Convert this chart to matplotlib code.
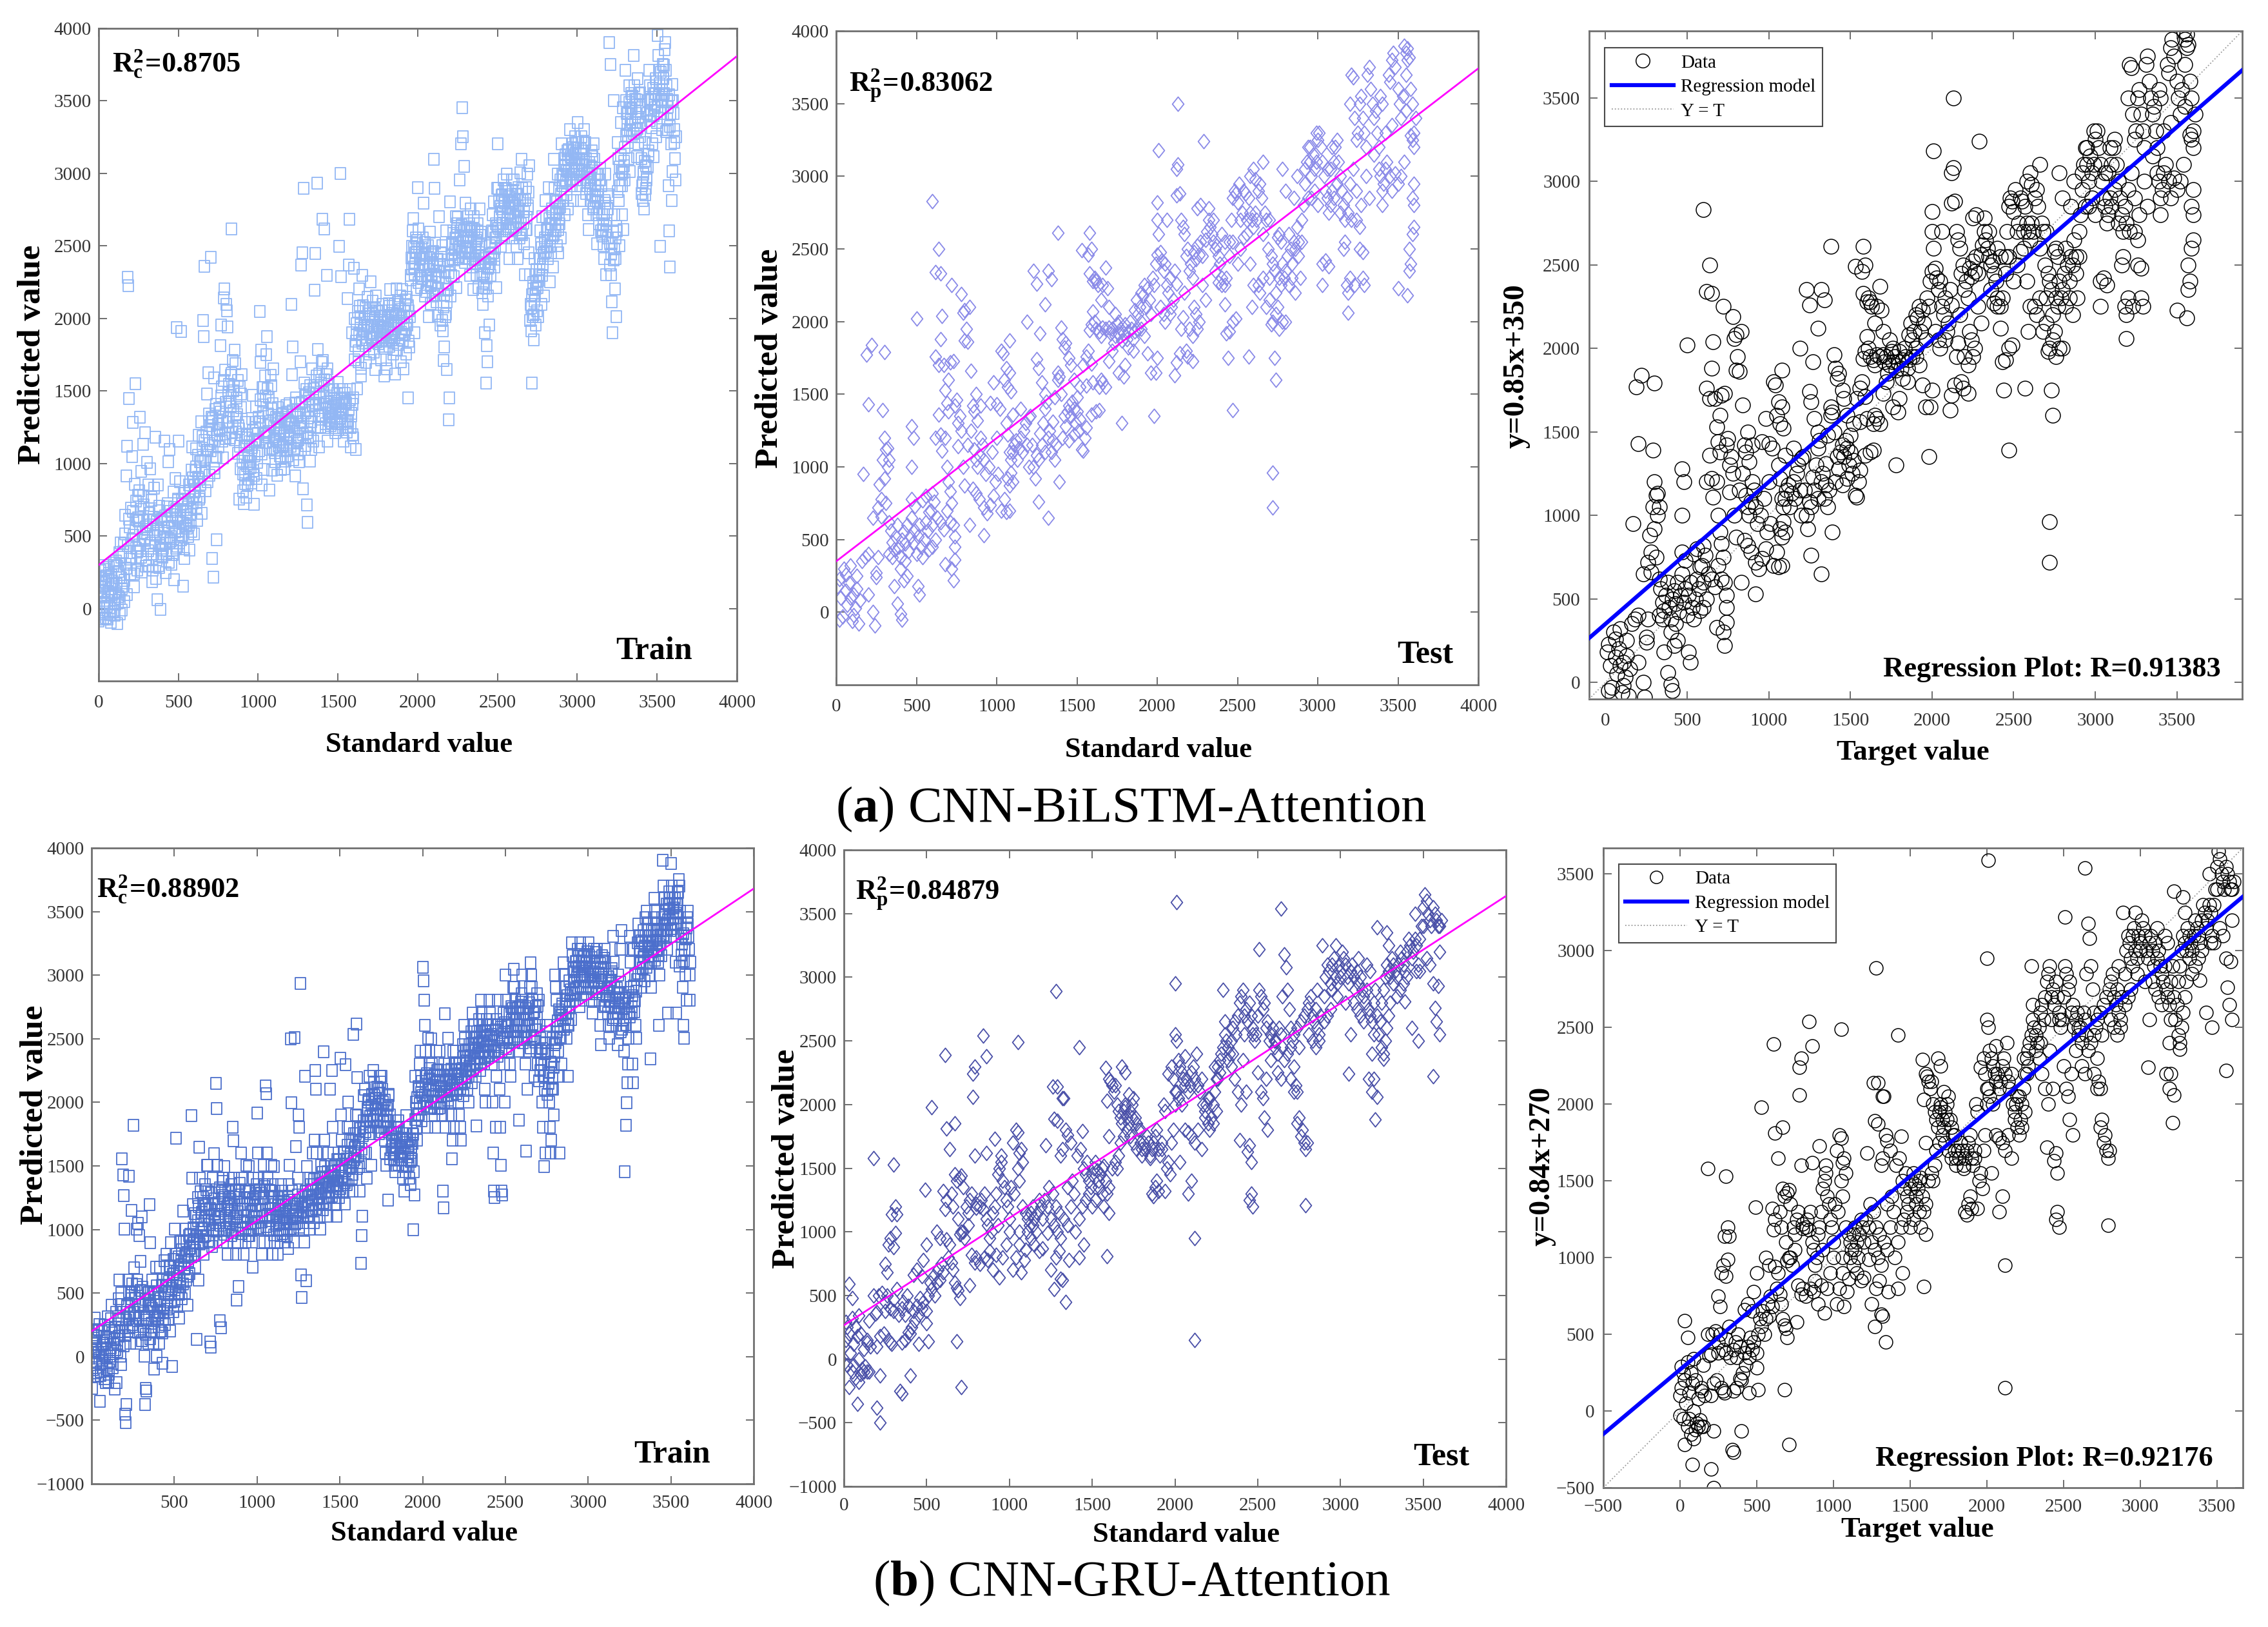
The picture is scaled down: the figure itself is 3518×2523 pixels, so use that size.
import numpy as np
import matplotlib
matplotlib.use("Agg")
import matplotlib.pyplot as plt
from matplotlib.path import Path
from matplotlib.lines import Line2D

# ---------------- data ----------------
# training set standard values (shared by both models)
train_std = [
    2, 6, 10, 14, 18, 22, 27, 31, 35, 39, 43, 47,
    52, 56, 60, 64, 68, 72, 77, 81, 85, 89, 93, 97,
    102, 106, 110, 114, 118, 122, 127, 131, 135, 139, 143, 147,
    152, 156, 160, 164, 168, 172, 177, 181, 185, 189, 193, 197,
    202, 206, 210, 214, 218, 222, 227, 231, 235, 239, 243, 247,
    252, 256, 260, 264, 268, 272, 277, 281, 285, 289, 293, 297,
    302, 306, 310, 314, 318, 322, 327, 331, 335, 339, 343, 347,
    352, 356, 360, 364, 368, 372, 377, 381, 385, 389, 393, 397,
    402, 406, 410, 414, 418, 422, 427, 431, 435, 439, 443, 447,
    452, 456, 460, 464, 468, 472, 477, 481, 485, 489, 493, 497,
    502, 506, 510, 514, 518, 522, 527, 531, 535, 539, 543, 547,
    552, 556, 560, 564, 568, 572, 577, 581, 585, 589, 593, 597,
    602, 606, 610, 614, 618, 622, 627, 631, 635, 639, 643, 647,
    652, 656, 660, 664, 668, 672, 677, 681, 685, 689, 693, 697,
    702, 706, 710, 714, 718, 722, 727, 731, 735, 739, 743, 747,
    752, 756, 760, 764, 768, 772, 777, 781, 785, 789, 793, 797,
    802, 806, 810, 814, 818, 822, 827, 831, 835, 839, 843, 847,
    852, 856, 860, 864, 868, 872, 877, 881, 885, 889, 893, 897,
    902, 906, 910, 914, 918, 922, 927, 931, 935, 939, 943, 947,
    952, 956, 960, 964, 968, 972, 977, 981, 985, 989, 993, 997,
    1002, 1006, 1010, 1014, 1018, 1022, 1027, 1031, 1035, 1039, 1043, 1047,
    1052, 1056, 1060, 1064, 1068, 1072, 1077, 1081, 1085, 1089, 1093, 1097,
    1102, 1106, 1110, 1114, 1118, 1122, 1127, 1131, 1135, 1139, 1143, 1147,
    1152, 1156, 1160, 1164, 1168, 1172, 1177, 1181, 1185, 1189, 1193, 1197,
    1202, 1206, 1210, 1214, 1218, 1222, 1227, 1231, 1235, 1239, 1243, 1247,
    1252, 1256, 1260, 1264, 1268, 1272, 1277, 1281, 1285, 1289, 1293, 1297,
    1302, 1306, 1310, 1314, 1318, 1322, 1327, 1331, 1335, 1339, 1343, 1347,
    1352, 1356, 1360, 1364, 1368, 1372, 1377, 1381, 1385, 1389, 1393, 1397,
    1402, 1406, 1410, 1414, 1418, 1422, 1427, 1431, 1435, 1439, 1443, 1447,
    1452, 1456, 1460, 1464, 1468, 1472, 1477, 1481, 1485, 1489, 1493, 1497,
    1502, 1506, 1510, 1514, 1518, 1522, 1527, 1531, 1535, 1539, 1543, 1547,
    1552, 1556, 1560, 1564, 1568, 1572, 1577, 1581, 1585, 1589, 1593, 1597,
    1602, 1606, 1610, 1614, 1618, 1622, 1627, 1631, 1635, 1639, 1643, 1647,
    1652, 1656, 1660, 1664, 1668, 1672, 1677, 1681, 1685, 1689, 1693, 1697,
    1702, 1706, 1710, 1714, 1718, 1722, 1727, 1731, 1735, 1739, 1743, 1747,
    1752, 1756, 1760, 1764, 1768, 1772, 1777, 1781, 1785, 1789, 1793, 1797,
    1802, 1806, 1810, 1814, 1818, 1822, 1827, 1831, 1835, 1839, 1843, 1847,
    1852, 1856, 1860, 1864, 1868, 1872, 1877, 1881, 1885, 1889, 1893, 1897,
    1902, 1906, 1910, 1914, 1918, 1922, 1927, 1931, 1935, 1939, 1943, 1947,
    1952, 1956, 1960, 1964, 1968, 1972, 1977, 1981, 1985, 1989, 1993, 1997,
    2002, 2006, 2010, 2014, 2018, 2022, 2027, 2031, 2035, 2039, 2043, 2047,
    2052, 2056, 2060, 2064, 2068, 2072, 2077, 2081, 2085, 2089, 2093, 2097,
    2102, 2106, 2110, 2114, 2118, 2122, 2127, 2131, 2135, 2139, 2143, 2147,
    2152, 2156, 2160, 2164, 2168, 2172, 2177, 2181, 2185, 2189, 2193, 2197,
    2202, 2206, 2210, 2214, 2218, 2222, 2227, 2231, 2235, 2239, 2243, 2247,
    2252, 2256, 2260, 2264, 2268, 2272, 2277, 2281, 2285, 2289, 2293, 2297,
    2302, 2306, 2310, 2314, 2318, 2322, 2327, 2331, 2335, 2339, 2343, 2347,
    2352, 2356, 2360, 2364, 2368, 2372, 2377, 2381, 2385, 2389, 2393, 2397,
    2402, 2406, 2410, 2414, 2418, 2422, 2427, 2431, 2435, 2439, 2443, 2447,
    2452, 2456, 2460, 2464, 2468, 2472, 2477, 2481, 2485, 2489, 2493, 2497,
    2502, 2506, 2510, 2514, 2518, 2522, 2527, 2531, 2535, 2539, 2543, 2547,
    2552, 2556, 2560, 2564, 2568, 2572, 2577, 2581, 2585, 2589, 2593, 2597,
    2602, 2606, 2610, 2614, 2618, 2622, 2627, 2631, 2635, 2639, 2643, 2647,
    2652, 2656, 2660, 2664, 2668, 2672, 2677, 2681, 2685, 2689, 2693, 2697,
    2702, 2706, 2710, 2714, 2718, 2722, 2727, 2731, 2735, 2739, 2743, 2747,
    2752, 2756, 2760, 2764, 2768, 2772, 2777, 2781, 2785, 2789, 2793, 2797,
    2802, 2806, 2810, 2814, 2818, 2822, 2827, 2831, 2835, 2839, 2843, 2847,
    2852, 2856, 2860, 2864, 2868, 2872, 2877, 2881, 2885, 2889, 2893, 2897,
    2902, 2906, 2910, 2914, 2918, 2922, 2927, 2931, 2935, 2939, 2943, 2947,
    2952, 2956, 2960, 2964, 2968, 2972, 2977, 2981, 2985, 2989, 2993, 2997,
    3002, 3006, 3010, 3014, 3018, 3022, 3027, 3031, 3035, 3039, 3043, 3047,
    3052, 3056, 3060, 3064, 3068, 3072, 3077, 3081, 3085, 3089, 3093, 3097,
    3102, 3106, 3110, 3114, 3118, 3122, 3127, 3131, 3135, 3139, 3143, 3147,
    3152, 3156, 3160, 3164, 3168, 3172, 3177, 3181, 3185, 3189, 3193, 3197,
    3202, 3206, 3210, 3214, 3218, 3222, 3227, 3231, 3235, 3239, 3243, 3247,
    3252, 3256, 3260, 3264, 3268, 3272, 3277, 3281, 3285, 3289, 3293, 3297,
    3302, 3306, 3310, 3314, 3318, 3322, 3327, 3331, 3335, 3339, 3343, 3347,
    3352, 3356, 3360, 3364, 3368, 3372, 3377, 3381, 3385, 3389, 3393, 3397,
    3402, 3406, 3410, 3414, 3418, 3422, 3427, 3431, 3435, 3439, 3443, 3447,
    3452, 3456, 3460, 3464, 3468, 3472, 3477, 3481, 3485, 3489, 3493, 3497,
    3502, 3506, 3510, 3514, 3518, 3522, 3527, 3531, 3535, 3539, 3543, 3547,
    3552, 3556, 3560, 3564, 3568, 3572, 3577, 3581, 3585, 3589, 3593, 3597,
    3601, 3604, 3607, 3610, 3613, 3616, 3619,
    # dense core of the band
    4, 12, 16, 24, 29, 33, 41, 45,
    54, 62, 66, 74, 79, 83, 91, 95,
    104, 112, 116, 124, 129, 133, 141, 145,
    154, 162, 166, 174, 179, 183, 191, 195,
    204, 212, 216, 224, 229, 233, 241, 245,
    254, 262, 266, 274, 279, 283, 291, 295,
    304, 312, 316, 324, 329, 333, 341, 345,
    354, 362, 366, 374, 379, 383, 391, 395,
    404, 412, 416, 424, 429, 433, 441, 445,
    454, 462, 466, 474, 479, 483, 491, 495,
    504, 512, 516, 524, 529, 533, 541, 545,
    554, 562, 566, 574, 579, 583, 591, 595,
    604, 612, 616, 624, 629, 633, 641, 645,
    654, 662, 666, 674, 679, 683, 691, 695,
    704, 712, 716, 724, 729, 733, 741, 745,
    754, 762, 766, 774, 779, 783, 791, 795,
    804, 812, 816, 824, 829, 833, 841, 845,
    854, 862, 866, 874, 879, 883, 891, 895,
    904, 912, 916, 924, 929, 933, 941, 945,
    954, 962, 966, 974, 979, 983, 991, 995,
    1004, 1012, 1016, 1024, 1029, 1033, 1041, 1045,
    1054, 1062, 1066, 1074, 1079, 1083, 1091, 1095,
    1104, 1112, 1116, 1124, 1129, 1133, 1141, 1145,
    1154, 1162, 1166, 1174, 1179, 1183, 1191, 1195,
    1204, 1212, 1216, 1224, 1229, 1233, 1241, 1245,
    1254, 1262, 1266, 1274, 1279, 1283, 1291, 1295,
    1304, 1312, 1316, 1324, 1329, 1333, 1341, 1345,
    1354, 1362, 1366, 1374, 1379, 1383, 1391, 1395,
    1404, 1412, 1416, 1424, 1429, 1433, 1441, 1445,
    1454, 1462, 1466, 1474, 1479, 1483, 1491, 1495,
    1504, 1512, 1516, 1524, 1529, 1533, 1541, 1545,
    1554, 1562, 1566, 1574, 1579, 1583, 1591, 1595,
    1604, 1612, 1616, 1624, 1629, 1633, 1641, 1645,
    1654, 1662, 1666, 1674, 1679, 1683, 1691, 1695,
    1704, 1712, 1716, 1724, 1729, 1733, 1741, 1745,
    1754, 1762, 1766, 1774, 1779, 1783, 1791, 1795,
    1804, 1812, 1816, 1824, 1829, 1833, 1841, 1845,
    1854, 1862, 1866, 1874, 1879, 1883, 1891, 1895,
    1904, 1912, 1916, 1924, 1929, 1933, 1941, 1945,
    1954, 1962, 1966, 1974, 1979, 1983, 1991, 1995,
    2004, 2012, 2016, 2024, 2029, 2033, 2041, 2045,
    2054, 2062, 2066, 2074, 2079, 2083, 2091, 2095,
    2104, 2112, 2116, 2124, 2129, 2133, 2141, 2145,
    2154, 2162, 2166, 2174, 2179, 2183, 2191, 2195,
    2204, 2212, 2216, 2224, 2229, 2233, 2241, 2245,
    2254, 2262, 2266, 2274, 2279, 2283, 2291, 2295,
    2304, 2312, 2316, 2324, 2329, 2333, 2341, 2345,
    2354, 2362, 2366, 2374, 2379, 2383, 2391, 2395,
    2404, 2412, 2416, 2424, 2429, 2433, 2441, 2445,
    2454, 2462, 2466, 2474, 2479, 2483, 2491, 2495,
    2504, 2512, 2516, 2524, 2529, 2533, 2541, 2545,
    2554, 2562, 2566, 2574, 2579, 2583, 2591, 2595,
    2604, 2612, 2616, 2624, 2629, 2633, 2641, 2645,
    2654, 2662, 2666, 2674, 2679, 2683, 2691, 2695,
    2704, 2712, 2716, 2724, 2729, 2733, 2741, 2745,
    2754, 2762, 2766, 2774, 2779, 2783, 2791, 2795,
    2804, 2812, 2816, 2824, 2829, 2833, 2841, 2845,
    2854, 2862, 2866, 2874, 2879, 2883, 2891, 2895,
    2904, 2912, 2916, 2924, 2929, 2933, 2941, 2945,
    2954, 2962, 2966, 2974, 2979, 2983, 2991, 2995,
    3004, 3012, 3016, 3024, 3029, 3033, 3041, 3045,
    3054, 3062, 3066, 3074, 3079, 3083, 3091, 3095,
    3104, 3112, 3116, 3124, 3129, 3133, 3141, 3145,
    3154, 3162, 3166, 3174, 3179, 3183, 3191, 3195,
    3204, 3212, 3216, 3224, 3229, 3233, 3241, 3245,
    3254, 3262, 3266, 3274, 3279, 3283, 3291, 3295,
    3304, 3312, 3316, 3324, 3329, 3333, 3341, 3345,
    3354, 3362, 3366, 3374, 3379, 3383, 3391, 3395,
    3404, 3412, 3416, 3424, 3429, 3433, 3441, 3445,
    3454, 3462, 3466, 3474, 3479, 3483, 3491, 3495,
    3504, 3512, 3516, 3524, 3529, 3533, 3541, 3545,
    3554, 3562, 3566, 3574, 3579, 3583, 3591, 3595,
]

# (a) CNN-BiLSTM-Attention, predicted values on the training set
train_a_pred = [
    -85, 12, 143, 261, 78, -37, 296, 118, 187, 43, -64, 224,
    57, -72, 198, 283, 6, 137, -96, 231, 95, 165, -18, 312,
    -48, 104, 327, 176, -105, 39, 254, 386, 71, 452, 212, -12,
    152, 448, 47, 643, 305, 915, 1118, 2283, 2226, 1447, 562, 238,
    693, 352, 1047, 1283, 503, 148, 857, 1552, 418, 612, 267, 781,
    604, 812, 1318, 396, 943, 253, 1132, 712, 488, 1213, 564, 335,
    1008, 547, 853, 297, 654, 962, 453, 746, 187, 612, 378, 829,
    503, 1182, 208, 597, 62, 854, 297, 703, 433, -8, 362, 618,
    352, 487, 553, 1153, 448, 248, 702, 597, 1012, 318, 1098, 671,
    497, 306, 647, 402, 803, 197, 552, 897, 684, 1938, 428, 756,
    1152, 453, 873, 598, 1908, 752, 503, 152, 684, 346, 807, 568,
    553, 702, 497, 851, 403, 648, 604, 953, 1112, 728, 876, 512,
    804, 948, 1103, 697, 606, 903, 1196, 752, 1012, 856, 1287, 657,
    1186, 1984, 1876, 2358, 1021, 812, 1478, 1093, 1624, 1341, 917, 1262,
    2423, 1317, 346, 1122, 218, 1588, 936, 1043, 1409, 476, 1193, 1268,
    1114, 1382, 1227, 1812, 1956, 1526, 1291, 1038, 2143, 2204, 1643, 1171,
    2097, 2052, 1941, 1486, 1318, 1427, 1609, 2618, 1213, 1712, 1364, 1532,
    1783, 1687, 1218, 1429, 1336, 1571, 1262, 752, 1118, 963, 1478, 1612,
    1017, 812, 724, 1113, 918, 1284, 766, 1196, 853, 1057, 961, 1148,
    1012, 867, 1311, 1472, 948, 718, 1159, 1247, 1389, 896, 1063, 1208,
    1318, 1089, 2047, 1696, 1782, 853, 1521, 1404, 957, 1213, 1604, 1147,
    1748, 1873, 1513, 1287, 1221, 818, 1609, 1377, 952, 1104, 1653, 1253,
    1187, 1012, 1318, 1093, 917, 1386, 1243, 1147, 1053, 1212, 957, 1338,
    1113, 1347, 1189, 962, 1268, 1018, 1397, 1147, 1052, 1298, 1176, 1413,
    1288, 1117, 2097, 1613, 1803, 1024, 1247, 913, 1453, 1152, 1352, 1063,
    1187, 1013, 1412, 1703, 2368, 1287, 2453, 823, 2897, 1553, 1097, 1352,
    1508, 713, 592, 1187, 1486, 1362, 1018, 1253, 1097, 1652, 1403, 1153,
    2196, 2447, 1418, 1603, 2932, 1787, 1323, 1116, 1452, 1253, 1553, 1697,
    2682, 1711, 1487, 2618, 1408, 1247, 1613, 2297, 1153, 1352, 1547, 1297,
    1318, 1387, 1452, 1279, 1363, 1508, 1246, 1213, 1347, 1413, 1276, 1558,
    1397, 2497, 1314, 2998, 2287, 1353, 1512, 1247, 1152, 1453, 1298, 1421,
    1418, 1286, 2137, 1253, 2368, 2683, 1509, 1113, 1347, 1903, 1198, 1452,
    2347, 1997, 1812, 1097, 1887, 1513, 1702, 2203, 2084, 1953, 1604, 1853,
    2296, 2087, 1918, 1947, 2012, 1813, 1697, 1853, 2147, 1948, 2053, 1753,
    2013, 2252, 1943, 1862, 2117, 1887, 1768, 2003, 1647, 2153, 1921, 2053,
    1953, 2047, 1887, 2019, 1713, 1853, 2097, 1808, 1947, 1603, 2012, 1907,
    1713, 1653, 1987, 1913, 2103, 1809, 2197, 1953, 1853, 2053, 1897, 1753,
    1903, 2097, 1617, 2013, 2203, 1787, 2047, 1953, 1853, 2153, 1703, 2003,
    2197, 1847, 1653, 2013, 1893, 2097, 1753, 2147, 1953, 1453, 2053, 1803,
    2013, 2297, 2418, 2497, 2603, 2687, 2353, 1903, 2453, 2553, 2197, 2513,
    2903, 2617, 2487, 2413, 2297, 2213, 2453, 2553, 2797, 2353, 2153, 2503,
    2418, 2297, 2213, 2503, 2013, 2353, 2597, 2103, 2453, 2253, 2153, 2363,
    3097, 2897, 2518, 2297, 2113, 2403, 2017, 2203, 2703, 2353, 1953, 2453,
    2503, 1913, 1708, 1803, 2318, 2013, 2603, 1647, 2203, 2403, 1303, 1453,
    2803, 2153, 2297, 2518, 2413, 2603, 2287, 2453, 2553, 2703, 2213, 2653,
    2697, 2518, 2413, 2953, 2603, 3203, 3453, 3253, 2553, 3047, 2453, 2797,
    2613, 2497, 2703, 2413, 2553, 2653, 2297, 2753, 2453, 2618, 2353, 2197,
    2703, 2613, 2487, 2413, 2303, 2553, 2653, 2213, 2453, 2753, 2363, 2597,
    2513, 2303, 2097, 2413, 2213, 1903, 1553, 1813, 1703, 2153, 2353, 1953,
    2503, 2297, 2413, 2603, 2713, 2453, 2803, 2353, 2553, 2653, 2213, 2897,
    3203, 2897, 2813, 2703, 2603, 2497, 2753, 2853, 2653, 2953, 2553, 2797,
    2897, 2997, 2713, 2813, 2603, 2413, 2753, 2853, 2653, 2953, 2553, 2797,
    2953, 2813, 2703, 2613, 2497, 2853, 2413, 2903, 2753, 2553, 3003, 2653,
    3097, 2897, 2813, 2703, 2513, 2303, 2903, 2613, 2997, 2753, 2453, 3053,
    2303, 2097, 1913, 1553, 2013, 2203, 1853, 2413, 2153, 1953, 2253, 2053,
    2213, 2013, 2303, 2413, 2603, 2513, 2097, 2703, 2353, 2453, 2153, 2553,
    2813, 2703, 2613, 2503, 2413, 2903, 2253, 2653, 2453, 2753, 2553, 2353,
    3097, 2897, 2813, 2603, 2713, 2503, 2997, 2453, 2753, 2653, 2953, 2553,
    3203, 2997, 2913, 2813, 3103, 2713, 3053, 2953, 2853, 3153, 2753, 3013,
    3303, 3113, 2997, 2913, 3203, 2813, 3153, 3053, 3253, 2953, 3013, 3103,
    3353, 3213, 3103, 2997, 2913, 2813, 3253, 3053, 3153, 2953, 3303, 3013,
    3213, 3103, 2997, 2913, 2713, 2613, 3053, 2813, 2953, 3153, 2853, 2753,
    3203, 3097, 2913, 2813, 2713, 2513, 2853, 2997, 2653, 2753, 2953, 2603,
    2913, 2713, 2613, 2503, 2413, 2813, 2997, 2303, 2653, 2753, 2553, 2853,
    3903, 2513, 3753, 2303, 2113, 1903, 3503, 2713, 2203, 2413, 2013, 2603,
    3213, 3103, 2813, 2503, 2913, 3353, 3013, 2713, 3453, 2613, 3053, 2953,
    3713, 3503, 3413, 3303, 3213, 3103, 3603, 3013, 3453, 3553, 3253, 3353,
    3813, 3603, 3513, 3413, 3303, 3113, 3653, 3203, 3553, 3453, 3253, 3353,
    3103, 2913, 2813, 2997, 2753, 3213, 2853, 3053, 2953, 3413, 3503, 3153,
    3713, 3603, 3513, 3403, 3313, 3203, 3113, 3553, 3453, 3653, 3253, 3353,
    3953, 3813, 3713, 3603, 2497, 3513, 3413, 3303, 3753, 3653, 3553, 3853,
    3903, 3713, 3603, 3513, 3303, 2913, 2603, 2353, 3413, 3203, 2813, 3013,
    3503, 3413, 3303, 3213, 3103, 2953, 3253,
    # dense core of the band
    -22, 88, 205, 152, -73, 31, 268, 174,
    14, 112, 243, -41, 76, 189, 297, 58,
    27, 168, 291, 83, 212, -36, 352, 134,
    388, 193, 512, 276, 97, 433, 617, 341,
    307, 472, 668, 238, 553, 742, 391, 624,
    437, 683, 352, 521, 776, 612, 468, 293,
    512, 397, 688, 574, 433, 768, 265, 631,
    452, 338, 547, 673, 281, 498, 612, 403,
    416, 532, 638, 377, 493, 721, 564, 452,
    463, 588, 372, 694, 527, 418, 623, 746,
    537, 642, 473, 718, 588, 412, 793, 667,
    623, 748, 577, 812, 684, 533, 902, 771,
    847, 978, 732, 1056, 893, 768, 1012, 934,
    1043, 1158, 948, 1217, 1092, 873, 1288, 1136,
    1087, 1234, 1312, 968, 1156, 1373, 1042, 1198,
    1243, 1356, 1467, 1152, 1318, 1574, 1203, 1421,
    1283, 1468, 1547, 1176, 1392, 1623, 1251, 1503,
    1163, 1317, 1452, 1068, 1238, 1527, 1386, 1197,
    927, 1048, 862, 1123, 984, 1176, 893, 1017,
    973, 1108, 1226, 917, 1053, 1284, 1162, 1006,
    1152, 1287, 1438, 1063, 1352, 1523, 1198, 1467,
    1187, 1342, 1456, 1098, 1276, 1538, 1413, 1152,
    1076, 1163, 1248, 1312, 1117, 1203, 1287, 1034,
    1123, 1218, 1306, 1087, 1247, 1356, 1168, 1273,
    1186, 1278, 1362, 1097, 1223, 1418, 1317, 1143,
    1163, 1247, 1338, 1423, 1198, 1286, 1467, 1123,
    1212, 1316, 1447, 1538, 1176, 1288, 1397, 1513,
    1362, 1478, 1536, 1247, 1412, 1618, 1307, 1573,
    1333, 1462, 1578, 1276, 1423, 1652, 1387, 1506,
    1263, 1327, 1396, 1442, 1288, 1363, 1417, 1481,
    1236, 1312, 1378, 1443, 1273, 1347, 1412, 1482,
    1218, 1296, 1372, 1437, 1248, 1326, 1408, 1176,
    1713, 1842, 1963, 2047, 1776, 1897, 2012, 1658,
    1832, 1917, 1993, 2073, 1868, 1956, 2032, 1792,
    1873, 1952, 2028, 1903, 1987, 2064, 1837, 1918,
    1826, 1912, 1984, 2053, 1867, 1943, 2018, 1793,
    1842, 1923, 2007, 2083, 1874, 1963, 2036, 1786,
    1868, 1947, 2026, 2108, 1823, 1982, 2063, 1907,
    1887, 1963, 2048, 2127, 1926, 2006, 2086, 1842,
    2268, 2342, 2418, 2486, 2307, 2383, 2457, 2538,
    2247, 2328, 2412, 2486, 2276, 2367, 2441, 2523,
    2187, 2263, 2338, 2416, 2226, 2302, 2387, 2463,
    2163, 2247, 2326, 2408, 2206, 2283, 2367, 2446,
    1986, 2078, 2163, 2247, 2032, 2116, 2198, 2316,
    2367, 2438, 2512, 2586, 2403, 2476, 2548, 2637,
    2426, 2497, 2568, 2643, 2462, 2533, 2606, 2388,
    2417, 2486, 2563, 2632, 2448, 2527, 2598, 2383,
    2403, 2472, 2538, 2604, 2436, 2507, 2573, 2376,
    2176, 2243, 2312, 2387, 2207, 2278, 2346, 2423,
    2376, 2448, 2523, 2596, 2407, 2482, 2557, 2638,
    2623, 2698, 2772, 2847, 2658, 2736, 2806, 2892,
    2617, 2688, 2764, 2838, 2652, 2723, 2797, 2883,
    2628, 2706, 2778, 2857, 2667, 2742, 2816, 2588,
    2576, 2657, 2738, 2816, 2613, 2696, 2776, 2872,
    1987, 2076, 2163, 2248, 2027, 2118, 2207, 2337,
    2263, 2336, 2412, 2487, 2298, 2373, 2448, 2536,
    2463, 2538, 2612, 2688, 2497, 2573, 2647, 2736,
    2573, 2648, 2726, 2802, 2612, 2686, 2768, 2857,
    2913, 2986, 3058, 3127, 2947, 3018, 3093, 3163,
    2963, 3037, 3108, 3176, 2997, 3072, 3143, 3212,
    2957, 3028, 3097, 3168, 2993, 3063, 3132, 3207,
    2863, 2937, 3006, 3077, 2898, 2968, 3042, 3113,
    2768, 2843, 2918, 2992, 2806, 2878, 2957, 3036,
    2568, 2642, 2717, 2793, 2603, 2677, 2756, 2838,
    2368, 2443, 2516, 2593, 2402, 2478, 2556, 2637,
    2873, 2957, 3043, 3126, 2916, 3002, 3084, 3178,
    3263, 3338, 3412, 3487, 3297, 3373, 3446, 3532,
    3273, 3352, 3428, 3506, 3312, 3387, 3467, 3556,
    2862, 2936, 3008, 3083, 2897, 2972, 3046, 3127,
    3362, 3437, 3512, 3586, 3398, 3473, 3547, 3632,
    3463, 3542, 3618, 3697, 3502, 3578, 3657, 3746,
    3287, 3372, 3458, 3543, 3326, 3413, 3498, 3612,
]

# (b) CNN-GRU-Attention, predicted values on the training set
train_b_pred = [
    -248, -103, 2, 147, 303, 52, -47, 98, 203, -153, 27, 253,
    -352, -147, 53, 197, -53, 103, 247, 3, -203, 152, -97, 312,
    -197, -103, 3, 153, 297, 403, -53, 97, 203, -253, 53, 347,
    -203, 103, 297, 453, 603, 197, 3, 503, 1557, 1427, 1268, 1003,
    -452, -516, -374, 403, 203, 603, 1421, 303, 103, 503, 1152, 252,
    1821, 697, 503, 303, 103, 1003, 603, 1047, 403, 953, 203, 752,
    1097, 547, 403, 203, 3, -378, -247, -272, 303, 503, 103, 447,
    1197, 897, 403, 203, 603, 103, -97, 503, 303, 703, 3, 353,
    497, 303, 103, 703, 403, 203, -53, 603, 353, 753, 253, 553,
    803, 603, 403, 297, 503, 703, 203, 897, -78, 553, 353, 653,
    1003, 803, 1718, 603, 403, 503, 703, 303, 903, 553, 753, 453,
    1147, 903, 697, 503, 1003, 603, 803, 403, 753, 953, 653, 853,
    1897, 1403, 1197, 1003, 903, 803, 703, 1103, 134, 953, 1253, 603,
    1647, 1403, 1297, 1103, 1003, 903, 803, 1203, 1353, 953, 1153, 1503,
    1503, 1297, 1103, 903, 114, 73, 1203, 1403, 1003, 1597, 1153, 1053,
    2147, 1953, 1503, 1197, 1003, 1103, 283, 228, 1303, 1403, 903, 1253,
    1497, 1303, 1103, 1003, 903, 803, 1203, 1403, 1253, 1053, 1153, 953,
    1803, 1697, 1403, 1197, 1003, 803, 447, 1103, 903, 553, 1303, 1253,
    1603, 1403, 1197, 1003, 803, 1103, 1303, 903, 1503, 1253, 1053, 953,
    1497, 1303, 1197, 1003, 903, 703, 1403, 1103, 1253, 1053, 1153, 1353,
    1918, 1603, 1403, 1303, 1197, 1003, 803, 1103, 1253, 1503, 903, 1353,
    2128, 2067, 1603, 1403, 1197, 1003, 903, 1303, 1503, 1103, 803, 1253,
    1497, 1303, 1197, 1103, 1003, 903, 803, 1253, 1153, 1053, 953, 1353,
    1303, 1197, 1103, 1003, 903, 1153, 1053, 953, 1253, 853, 1353, 1503,
    2497, 1997, 1303, 1103, 1003, 903, 2507, 1203, 1653, 1153, 1053, 1403,
    1903, 1803, 2937, 642, 468, 1203, 1103, 1003, 903, 2203, 1303, 597,
    1497, 1303, 1197, 1103, 1003, 1403, 1253, 1153, 1603, 1353, 1053, 1703,
    2253, 2103, 1603, 1403, 1303, 1203, 1103, 1003, 1503, 1253, 1353, 1153,
    2397, 1703, 1497, 1403, 1303, 1203, 1103, 1603, 1353, 1253, 2103, 1453,
    2253, 1803, 1603, 1497, 1403, 1303, 1203, 1103, 1553, 1353, 1453, 1253,
    2347, 1903, 1703, 1497, 1403, 1303, 1603, 1203, 2297, 1553, 1353, 1803,
    2003, 1803, 1703, 1603, 1497, 1403, 1303, 2532, 1753, 1553, 1653, 1903,
    2614, 2197, 1897, 1703, 1497, 1303, 736, 953, 1103, 1803, 2053, 1603,
    2103, 1803, 1603, 1403, 1953, 2003, 2203, 1753, 1853, 1503, 2053, 1903,
    2253, 2153, 2053, 2003, 1953, 1903, 1853, 1803, 2103, 1753, 2203, 1953,
    2203, 2103, 2003, 1903, 1803, 1703, 1603, 1503, 1953, 1853, 1232, 2053,
    1903, 1803, 1753, 1703, 1653, 1603, 1553, 1503, 1453, 1853, 1653, 1753,
    1853, 1803, 1703, 1653, 1603, 1553, 1503, 1403, 1753, 1303, 1603, 1453,
    1897, 1803, 1703, 1603, 1503, 1403, 1353, 1653, 1553, 1753, 996, 1453,
    1270, 2203, 2003, 1803, 1703, 1903, 2103, 2303, 2403, 2203, 1853, 2053,
    3061, 2953, 2803, 2603, 2403, 2203, 2003, 1803, 2503, 2303, 2103, 1953,
    2497, 2303, 2203, 2103, 2003, 1903, 1803, 2153, 2403, 2253, 1953, 2053,
    2403, 2203, 2103, 2003, 1903, 1303, 1171, 2303, 2697, 1803, 2153, 2053,
    2503, 2303, 2203, 2103, 2003, 1903, 1557, 1703, 2403, 1803, 2153, 2253,
    2403, 2303, 2203, 2103, 2003, 1903, 1803, 1703, 2253, 2153, 2453, 2053,
    2603, 2503, 2403, 2303, 2203, 2103, 2003, 2453, 2353, 2253, 2553, 2153,
    2703, 2603, 2503, 2403, 2303, 2203, 1813, 2553, 2453, 2653, 2353, 2253,
    2803, 2703, 2603, 2503, 2403, 2303, 2103, 2003, 2553, 2653, 2453, 2353,
    2803, 2703, 2603, 2503, 2303, 2003, 1603, 1303, 1253, 2403, 1803, 2203,
    2803, 2603, 2403, 2103, 1803, 1503, 1303, 1273, 2503, 2703, 2303, 2003,
    3003, 2803, 2703, 2603, 2503, 2403, 2303, 2203, 2753, 2653, 2553, 2903,
    3047, 2903, 2803, 2703, 2603, 2503, 2403, 1862, 2753, 2653, 2553, 2853,
    3003, 2803, 2703, 2603, 2503, 2303, 1618, 2103, 2753, 2653, 2403, 2903,
    3097, 3003, 2903, 2803, 2703, 2503, 2203, 2603, 2753, 2403, 2853, 2303,
    2803, 2603, 2503, 2403, 2303, 2003, 1803, 2203, 1496, 2103, 1603, 2553,
    2603, 2403, 2203, 2003, 1803, 1603, 1703, 2303, 2503, 2103, 1903, 2453,
    3003, 2903, 2803, 2603, 2403, 2203, 1603, 2703, 2503, 2303, 2753, 2653,
    3097, 3003, 2903, 2803, 2703, 2503, 2203, 2603, 2953, 2753, 2853, 2653,
    3253, 3153, 3053, 2953, 2853, 2803, 3103, 3003, 3203, 2903, 3053, 2753,
    3253, 3203, 3103, 3003, 2903, 2803, 3153, 3053, 2953, 3103, 2853, 3003,
    3253, 3153, 3103, 3003, 2903, 2803, 2703, 3053, 3203, 2953, 3103, 2853,
    3203, 3103, 3003, 2903, 2803, 2603, 2453, 2953, 3153, 2853, 3053, 2753,
    3203, 3103, 3003, 2903, 2703, 2603, 2503, 2803, 2953, 2753, 3053, 2653,
    3303, 3103, 2903, 2803, 2703, 2603, 2453, 3003, 2853, 2753, 3203, 2553,
    3353, 3203, 2803, 2603, 2403, 1455, 1821, 1996, 2153, 2303, 2503, 2703,
    3303, 3103, 2903, 2703, 2303, 2153, 3203, 2803, 3003, 2603, 2503, 3253,
    3403, 3303, 3203, 3103, 3003, 2903, 3253, 3053, 3353, 3153, 2953, 3453,
    3503, 3403, 3303, 3203, 3103, 3003, 2341, 2903, 3353, 3253, 3153, 3453,
    3603, 3503, 3403, 3303, 3203, 3103, 2603, 3003, 3353, 3253, 3153, 3453,
    3903, 3703, 3603, 3503, 3403, 3303, 3203, 2703, 3553, 3653, 3453, 3353,
    3878, 3703, 3603, 3503, 3403, 3303, 3103, 2703, 3553, 3653, 3453, 3753,
    3703, 3503, 3403, 3303, 3103, 2903, 2603, 2503, 3203, 3003, 2803, 3453,
    3503, 3403, 3303, 3203, 3003, 2803, 3103,
    # dense core of the band
    -87, 36, 173, 124, -128, 67, 214, -12,
    -118, -24, 88, 163, -172, 12, 128, -66,
    -136, -38, 72, 186, -87, 23, 138, 231,
    38, 163, 287, 412, -62, 226, 348, 87,
    168, 286, 397, 512, 227, 338, 457, 573,
    236, 347, 458, 567, 193, 302, 412, 523,
    127, 238, 346, 452, 178, 287, 393, 512,
    143, 262, 378, 497, 193, 316, 437, 556,
    238, 346, 457, 562, 187, 293, 412, 518,
    376, 487, 593, 712, 428, 536, 648, 763,
    437, 552, 668, 784, 493, 612, 726, 843,
    573, 687, 796, 912, 632, 738, 857, 963,
    787, 893, 1012, 1126, 836, 947, 1067, 1178,
    887, 1012, 1136, 1253, 942, 1068, 1193, 1312,
    912, 1037, 1163, 1286, 868, 992, 1118, 1243,
    987, 1096, 1212, 1327, 1036, 1148, 1267, 1378,
    962, 1074, 1183, 1296, 1017, 1128, 1238, 1352,
    976, 1086, 1193, 1307, 1032, 1142, 1252, 1363,
    967, 1062, 1158, 1246, 1013, 1107, 1203, 1297,
    952, 1048, 1142, 1236, 996, 1093, 1187, 1283,
    1012, 1106, 1198, 1287, 1057, 1152, 1246, 1338,
    1023, 1117, 1213, 1308, 1068, 1163, 1256, 1352,
    958, 1033, 1107, 1186, 996, 1072, 1147, 1223,
    967, 1043, 1118, 1193, 1006, 1082, 1157, 1232,
    1008, 1082, 1157, 1233, 1046, 1122, 1196, 1272,
    1017, 1096, 1177, 1257, 1056, 1136, 1218, 1297,
    1112, 1193, 1272, 1353, 1152, 1233, 1312, 1396,
    1163, 1242, 1322, 1403, 1202, 1283, 1362, 1447,
    1212, 1293, 1372, 1452, 1253, 1333, 1412, 1497,
    1263, 1342, 1423, 1503, 1302, 1382, 1462, 1547,
    1323, 1417, 1512, 1608, 1368, 1463, 1557, 1663,
    1386, 1487, 1592, 1697, 1433, 1538, 1643, 1752,
    1478, 1583, 1686, 1792, 1527, 1632, 1738, 1857,
    1768, 1853, 1937, 2022, 1808, 1893, 1978, 2063,
    1863, 1948, 2032, 2117, 1906, 1987, 2073, 2158,
    1768, 1852, 1936, 2018, 1807, 1893, 1977, 2063,
    1557, 1626, 1693, 1762, 1592, 1658, 1727, 1797,
    1512, 1578, 1647, 1716, 1546, 1613, 1682, 1752,
    1506, 1572, 1643, 1712, 1538, 1607, 1678, 1748,
    1867, 1953, 2037, 2123, 1908, 1993, 2078, 2163,
    1973, 2058, 2142, 2227, 2012, 2097, 2183, 2268,
    1962, 2048, 2133, 2216, 2006, 2088, 2172, 2258,
    1957, 2043, 2126, 2213, 1998, 2083, 2168, 2253,
    2017, 2098, 2178, 2262, 2056, 2137, 2218, 2302,
    2067, 2148, 2227, 2308, 2106, 2187, 2268, 2352,
    2163, 2247, 2328, 2412, 2206, 2286, 2367, 2452,
    2263, 2347, 2428, 2512, 2306, 2387, 2468, 2553,
    2318, 2398, 2482, 2563, 2356, 2437, 2522, 2607,
    2367, 2448, 2532, 2613, 2406, 2487, 2568, 2652,
    2362, 2436, 2512, 2588, 2398, 2473, 2548, 2627,
    2423, 2512, 2603, 2692, 2467, 2556, 2647, 2738,
    2472, 2563, 2652, 2743, 2518, 2607, 2697, 2788,
    2468, 2557, 2648, 2736, 2512, 2602, 2692, 2783,
    2427, 2523, 2617, 2712, 2473, 2568, 2663, 2758,
    2167, 2253, 2338, 2423, 2212, 2297, 2382, 2468,
    2062, 2148, 2233, 2318, 2106, 2192, 2276, 2362,
    2468, 2553, 2642, 2728, 2512, 2597, 2686, 2772,
    2573, 2662, 2748, 2837, 2617, 2706, 2792, 2882,
    2862, 2943, 3026, 3107, 2902, 2986, 3067, 3148,
    2917, 2993, 3068, 3143, 2956, 3031, 3106, 3182,
    2913, 2988, 3063, 3137, 2951, 3026, 3101, 3176,
    2867, 2942, 3018, 3093, 2904, 2979, 3056, 3132,
    2762, 2836, 2912, 2987, 2798, 2873, 2948, 3024,
    2667, 2746, 2823, 2902, 2706, 2784, 2862, 2943,
    2573, 2652, 2738, 2817, 2612, 2696, 2778, 2862,
    2672, 2753, 2838, 2917, 2712, 2796, 2876, 2963,
    3017, 3103, 3186, 3272, 3058, 3142, 3228, 3312,
    3063, 3146, 3226, 3307, 3104, 3186, 3268, 3348,
    3117, 3196, 3277, 3358, 3156, 3237, 3317, 3402,
    3317, 3398, 3477, 3558, 3356, 3437, 3518, 3602,
    3367, 3446, 3527, 3606, 3406, 3487, 3566, 3648,
    3072, 3157, 3243, 3327, 3113, 3198, 3286, 3373,
]

# (a) test set: standard (target) values and predictions
test_a_std = [
    10, 20, 30, 40, 50, 60, 70, 80, 90, 100, 110, 120, 130, 140, 150, 20, 60, 90, 110, 130,
    170, 190, 200, 220, 230, 240, 250, 260, 270, 280, 290, 300, 310, 300, 280, 250, 230, 200, 180, 160, 200, 260, 310, 320, 330, 300, 290, 320,
    330, 340, 350, 360, 370, 380, 390, 400, 410, 420, 430, 440, 450, 460, 470, 480, 490, 500, 510, 520, 530, 540, 550, 560, 570, 580, 590, 600, 360, 380, 400, 410, 420, 440, 470, 480, 470, 500, 510, 520, 400, 430, 350, 330, 470, 490, 540, 560, 580, 600, 610,
    600, 620, 640, 650, 620, 640, 650, 660, 670, 680, 690, 700, 700, 710, 720, 730, 740, 750, 760, 640, 620, 650, 660, 680, 690, 700, 710, 720, 730, 740, 740, 720, 730, 740, 680, 630, 620, 600, 650, 670, 690, 710, 760, 770, 780, 790, 800,
    780, 790, 800, 810, 800, 820, 830, 840, 850, 860, 870, 880, 820, 840, 860, 870, 880, 890, 900, 910, 920, 930, 920, 920, 940, 960, 980, 990, 1000, 970, 950, 900, 960, 980, 1000, 830, 850, 870, 890,
    1030, 1040, 1050, 1060, 1070, 1080, 1090, 1080, 1020, 1060, 1070, 1080, 1090, 1100, 1080, 1070, 1090, 1100, 1110, 1120, 1130, 1140, 1150, 1160, 1170, 1180, 1190, 1200, 1010, 1030, 1060, 1080, 1050, 1100, 1150, 1190, 1200,
    1230, 1250, 1270, 1250, 1260, 1280, 1300, 1320, 1340, 1300, 1310, 1270, 1280, 1290, 1300, 1320, 1330, 1340, 1350, 1360, 1370, 1380, 1390, 1400, 1380, 1250, 1230, 1240, 1260, 1320, 1300, 1360, 1390, 1410, 1380, 1350, 1260, 1220, 1210,
    1410, 1420, 1430, 1450, 1460, 1480, 1420, 1440, 1450, 1460, 1470, 1480, 1490, 1500, 1510, 1520, 1530, 1540, 1550, 1560, 1500, 1520, 1540, 1560, 1570, 1480, 1450, 1430, 1530, 1570, 1580, 1590, 1580, 1600, 1580, 1590, 1600, 1560, 1590, 1600, 1590, 1400,
    1610, 1620, 1630, 1650, 1660, 1680, 1690, 1610, 1620, 1640, 1650, 1660, 1680, 1700, 1710, 1720, 1740, 1750, 1760, 1770, 1780, 1790, 1800, 1640, 1650, 1660, 1680, 1640, 1620, 1700, 1720, 1740, 1760, 1780, 1790, 1800, 1760, 1700, 1730,
    1810, 1820, 1830, 1840, 1850, 1860, 1870, 1880, 1890, 1900, 1910, 1920, 1930, 1940, 1950, 1960, 1970, 1980, 1990, 2000, 1820, 1860, 1880, 1900, 1920, 1940, 1960, 1990, 1980, 2000, 1900, 1850,
    2000, 2010, 2000, 2010, 2020, 2030, 2040, 2050, 2060, 2070, 2080, 2090, 2100, 2110, 2120, 2130, 2120, 2130, 2120, 2140, 2150, 2160, 2170, 2180, 2190, 2200, 2110, 2120, 2140, 2150, 2160, 2180, 2190, 2200, 2050, 2080, 2060, 2170, 2020, 2040,
    2210, 2220, 2230, 2240, 2250, 2260, 2270, 2280, 2290, 2300, 2310, 2320, 2330, 2340, 2350, 2360, 2370, 2380, 2390, 2400, 2220, 2230, 2240, 2250, 2260, 2220, 2280, 2300, 2320, 2350, 2380, 2400, 2420, 2430, 2440, 2450, 2470, 2250, 2270, 2360,
    2400, 2420, 2430, 2450, 2460, 2470, 2480, 2490, 2500, 2510, 2520, 2530, 2540, 2550, 2560, 2570, 2580, 2590, 2600, 2470, 2490, 2500, 2520, 2540, 2560, 2580, 2600, 2610, 2580, 2570, 2590, 2600, 2470, 2450, 2420,
    2610, 2620, 2630, 2640, 2650, 2660, 2670, 2680, 2690, 2700, 2710, 2720, 2730, 2740, 2750, 2760, 2770, 2780, 2790, 2800, 2630, 2640, 2660, 2680, 2700, 2710, 2720, 2730, 2740, 2720, 2720, 2740, 2760, 2780, 2800, 2750, 2760, 2770, 2800, 2780, 2700, 2660,
    2810, 2820, 2830, 2840, 2850, 2860, 2870, 2880, 2890, 2900, 2910, 2920, 2930, 2940, 2950, 2960, 2970, 2980, 2990, 3000, 2820, 2840, 2860, 2880, 2900, 2920, 2940, 2960, 2980, 3000, 2850, 2870, 2950, 2990,
    3010, 3020, 3030, 3040, 3050, 3060, 3070, 3080, 3090, 3100, 3110, 3120, 3130, 3140, 3150, 3160, 3170, 3180, 3190, 3200, 3030, 3050, 3070, 3080, 3090, 3100, 3120, 3140, 3160, 3170, 3180, 3190, 3190, 3200, 3210, 3220, 3200, 3210, 3220, 3030, 3060,
    3230, 3240, 3250, 3260, 3270, 3280, 3290, 3300, 3310, 3320, 3330, 3340, 3350, 3360, 3370, 3380, 3390, 3400, 3240, 3260, 3270, 3280, 3290, 3260, 3240, 3300, 3320, 3350, 3380, 3400, 3410, 3420, 3430, 3400, 3390, 3230, 3280,
    3440, 3450, 3460, 3470, 3480, 3500, 3510, 3520, 3530, 3540, 3550, 3560, 3570, 3580, 3590, 3600, 3450, 3460, 3480, 3500, 3500, 3560, 3570, 3580, 3570, 3590, 3600, 3590, 3600, 3590, 3600, 3580, 3550, 3540, 3520, 3460, 3420, 3600, 3610, 3550, 3560,
]
test_a_pred = [
    180, 230, 100, -30, 300, 150, 50, 200, 100, -60, 120, 30, 250, -80, 80, -50, 260, 320, -20, 160,
    950, 1770, 1430, 1840, 650, -90, 270, 380, 880, 780, 1390, 1790, 1120, 920, 660, 240, 0, 120, 380, 350, 400, 720, 750, 1000, 1050, 1200, 1050, 1130,
    620, 560, 480, 430, 520, 600, 450, 380, 500, 550, 470, 600, 420, 520, 650, 480, 560, 400, 520, 600, 450, 380, 500, 620, 560, 430, 700, 820, 180, 60, -10, -50, 220, 250, 1000, 1200, 1280, 2020, 180, 120, 300, 350, 380, 400, 780, 730, 770, 800, 690, 600, 760,
    2830, 2340, 2500, 2330, 1760, 1700, 1880, 2040, 1700, 1530, 1440, 1600, 1380, 1720, 2250, 1730, 1420, 1460, 1300, 1360, 1200, 1220, 1110, 1200, 1000, 900, 830, 750, 600, 520, 450, 300, 220, 360, 330, 650, 500, 450, 620, 570, 700, 620, 1140, 1350, 1250, 1000, 870,
    2190, 2060, 2080, 1950, 1870, 1860, 2100, 1660, 1420, 1380, 1500, 1320, 1150, 1250, 1120, 1050, 1000, 1080, 1200, 1150, 1050, 950, 720, 530, 680, 740, 800, 900, 1200, 1100, 1000, 1420, 1440, 1580, 1430, 600, 850, 820, 780,
    1800, 1780, 1600, 1680, 1550, 1650, 1520, 1870, 1400, 1300, 1220, 1100, 1050, 900, 870, 920, 960, 1100, 1150, 1180, 1050, 1130, 1200, 1100, 1250, 1300, 1150, 1000, 950, 700, 690, 700, 780, 1360, 1400, 2000, 1340,
    2350, 2260, 1920, 1740, 1680, 1580, 2120, 2350, 2290, 1500, 1450, 1230, 1150, 1300, 1100, 1200, 1250, 1100, 1180, 1050, 1150, 1650, 1620, 1960, 1600, 1080, 1000, 920, 760, 650, 1400, 1480, 900, 1200, 2610, 1310, 1050, 1150, 1350,
    1880, 1820, 1850, 1750, 1700, 1600, 1350, 1380, 1420, 1350, 1450, 1400, 1300, 1380, 1250, 1330, 1120, 1110, 1200, 1270, 1480, 1550, 1700, 1760, 1800, 1220, 1180, 1280, 2490, 2460, 2610, 2500, 2330, 2280, 1940, 1980, 2070, 1560, 1360, 1580, 1710, 1500,
    2300, 2280, 2250, 2150, 2250, 2370, 2230, 2000, 1950, 1930, 1900, 1960, 1950, 1960, 1920, 1950, 1900, 1980, 1920, 1950, 1870, 1920, 1980, 1550, 1600, 1580, 1550, 1390, 1380, 1730, 1800, 2050, 2000, 1300, 1620, 1700, 1650, 2100, 1850,
    1880, 1930, 2000, 1950, 1880, 2080, 2150, 2050, 2100, 2200, 2180, 2250, 2100, 2230, 2150, 2050, 2300, 2250, 2400, 2460, 1820, 1930, 1950, 1950, 1900, 1780, 1650, 1650, 1350, 1750, 2000, 1800,
    2820, 3180, 2700, 2600, 2480, 2420, 2350, 2400, 2250, 2200, 2300, 2100, 2150, 2350, 2260, 3500, 3050, 3080, 2870, 2880, 2700, 2650, 2600, 2450, 2500, 2350, 1630, 1720, 1780, 1950, 2030, 1800, 1760, 1950, 2000, 2050, 2700, 2200, 2100, 2050,
    2400, 2300, 2480, 2430, 2520, 2460, 2550, 2450, 3240, 2560, 2620, 2700, 2650, 2600, 2550, 2500, 2520, 2450, 2400, 2300, 1900, 2100, 2050, 1950, 2000, 1730, 2250, 2150, 2780, 2700, 2270, 2250, 2120, 1920, 1750, 1930, 2000, 2780, 2800, 2350,
    2600, 2550, 2300, 2550, 2700, 2850, 2900, 2880, 2820, 2950, 2700, 2750, 2900, 2880, 2700, 2850, 2750, 2700, 2650, 1390, 2020, 2400, 2500, 2580, 2600, 3000, 3050, 2980, 2400, 1760, 2100, 2250, 2550, 2450, 2250,
    2750, 2700, 2900, 2950, 2850, 3100, 2750, 2700, 2500, 2300, 2450, 2400, 2350, 2200, 2100, 2300, 2250, 2400, 2300, 2350, 2250, 2200, 2300, 2100, 2150, 1980, 2000, 1750, 1600, 960, 720, 2050, 1950, 2000, 2000, 2580, 2600, 2550, 2900, 3050, 2700, 2600,
    2450, 2600, 2500, 2400, 2550, 2500, 2650, 2450, 2300, 2700, 2800, 3050, 3100, 3200, 3100, 3000, 3150, 2900, 3300, 3250, 2250, 2300, 2200, 2550, 2550, 2950, 2850, 2850, 3050, 2800, 2850, 3000, 3200, 3100,
    3300, 3200, 3100, 3000, 2900, 2850, 2750, 2800, 2900, 3100, 3200, 3250, 3100, 3000, 2900, 2800, 2700, 2850, 2750, 2950, 2400, 2420, 2380, 3050, 3200, 2850, 2950, 2750, 2500, 2550, 2250, 2200, 2060, 2300, 2700, 3050, 3500, 3700, 3680, 2250, 3050,
    3400, 3250, 3300, 3500, 3550, 3400, 3300, 3200, 3700, 3750, 3600, 3500, 3400, 3450, 3300, 3200, 3000, 2900, 2700, 2650, 2800, 2300, 2250, 2500, 2900, 3000, 2850, 3150, 3050, 2800, 2950, 3050, 3100, 3500, 3550, 2250, 2480,
    3700, 3650, 3800, 3850, 3750, 3600, 3500, 3400, 3550, 3900, 3850, 3800, 3820, 3600, 3500, 3300, 3000, 2900, 3020, 2950, 2230, 2180, 2350, 2400, 2500, 2600, 2650, 2850, 2800, 3250, 3200, 3280, 3450, 3100, 3000, 3350, 3300, 2950, 3400, 3700, 3880,
]

# (b) test set: standard (target) values and predictions
test_b_std = [
    0, 10, 20, 30, 40, 50, 60, 70, 80, 90, 100, 110, 120, 130, 140, 150, 10, 30, 60, 90, 120, 50, 30, 50, 90, 140, 0, 20, 70, 100, 150, 80, 140,
    180, 200, 220, 220, 200, 210, 230, 250, 260, 270, 280, 290, 300, 310, 320, 300, 310, 250, 260, 280, 300, 270, 290, 180, 190, 220, 240, 160, 200, 250, 300, 320, 330, 340, 350, 280,
    350, 360, 370, 380, 390, 400, 410, 420, 430, 440, 450, 460, 470, 480, 500, 510, 520, 530, 540, 550, 560, 570, 580, 590, 600, 400, 420, 440, 450, 480, 490, 500, 510, 530, 560, 580, 600, 610, 620, 500, 470, 350, 370, 390,
    610, 620, 670, 640, 650, 620, 660, 670, 680, 700, 710, 720, 740, 750, 760, 770, 780, 790, 780, 790, 800, 800, 690, 700, 710, 730, 640, 650, 660, 670, 680, 690, 700, 680, 710, 760, 770, 790, 800, 720, 750, 630,
    840, 860, 820, 830, 840, 850, 860, 870, 880, 890, 900, 910, 920, 930, 940, 950, 960, 970, 980, 990, 1000, 860, 910, 950, 820, 850, 870, 900, 920, 940, 960, 980, 1000, 880, 930,
    1050, 1040, 1050, 1020, 1060, 1070, 1080, 1050, 1010, 1030, 1060, 1080, 1100, 1110, 1120, 1130, 1140, 1150, 1160, 1170, 1180, 1190, 1200, 1020, 1040, 1060, 1070, 1090, 1100, 1130, 1150, 1180, 1200, 1110, 1140, 1060,
    1280, 1260, 1290, 1270, 1290, 1320, 1330, 1220, 1240, 1260, 1280, 1300, 1310, 1320, 1340, 1350, 1370, 1210, 1230, 1250, 1270, 1290, 1310, 1330, 1350, 1370, 1390, 1250, 1270, 1310, 1320, 1340, 1300, 1280, 1360, 1400, 1380, 1230, 1350,
    1420, 1440, 1410, 1430, 1450, 1460, 1470, 1480, 1490, 1500, 1510, 1520, 1530, 1540, 1550, 1560, 1570, 1580, 1590, 1600, 1420, 1440, 1460, 1480, 1500, 1520, 1540, 1560, 1580, 1590, 1600, 1420, 1590, 1570, 1600, 1450,
    1600, 1610, 1620, 1630, 1640, 1650, 1660, 1670, 1680, 1690, 1700, 1710, 1720, 1730, 1740, 1750, 1760, 1770, 1780, 1790, 1800, 1680, 1700, 1620, 1640, 1650, 1660, 1670, 1690, 1710, 1730, 1750, 1770, 1790, 1800, 1700, 1720, 1740,
    1810, 1820, 1830, 1840, 1850, 1860, 1870, 1880, 1890, 1900, 1910, 1920, 1930, 1940, 1950, 1960, 1970, 1980, 1990, 2000, 1860, 1880, 1900, 1870, 1890, 1940, 1990, 2000, 1920, 1850, 2000, 1980, 1960,
    2010, 2000, 2010, 2020, 2030, 2040, 2050, 2060, 2070, 2080, 2090, 2100, 2110, 2120, 2130, 2140, 2150, 2160, 2170, 2180, 2190, 2200, 2010, 2020, 2040, 2060, 2080, 2100, 2120, 2140, 2160, 2180, 2200, 2030, 2080, 2100, 2120, 2120, 2060,
    2210, 2220, 2230, 2240, 2250, 2260, 2270, 2280, 2290, 2300, 2310, 2320, 2330, 2340, 2350, 2360, 2370, 2380, 2390, 2400, 2210, 2230, 2250, 2270, 2290, 2300, 2320, 2340, 2360, 2380, 2400, 2390, 2240, 2260, 2350,
    2410, 2420, 2430, 2440, 2450, 2460, 2470, 2480, 2490, 2500, 2510, 2520, 2530, 2540, 2550, 2560, 2570, 2580, 2590, 2600, 2440, 2450, 2460, 2450, 2460, 2470, 2500, 2510, 2520, 2540, 2560, 2530, 2550, 2580, 2600, 2410, 2430, 2470, 2420,
    2610, 2620, 2630, 2640, 2640, 2650, 2660, 2670, 2680, 2690, 2700, 2710, 2720, 2730, 2740, 2750, 2760, 2770, 2780, 2790, 2800, 2620, 2640, 2660, 2680, 2700, 2720, 2740, 2760, 2780, 2800, 2700, 2720, 2740, 2790, 2750, 2650,
    2810, 2820, 2830, 2840, 2850, 2860, 2870, 2880, 2890, 2900, 2910, 2920, 2930, 2940, 2950, 2960, 2970, 2980, 2990, 3000, 2810, 2830, 2850, 2870, 2900, 2920, 2950, 2980, 3000, 2970, 2860, 2940,
    3010, 3020, 3030, 3040, 3050, 3060, 3070, 3080, 3090, 3100, 3110, 3120, 3130, 3140, 3150, 3160, 3170, 3180, 3190, 3200, 3050, 3060, 3080, 3100, 3120, 3140, 3160, 3180, 3190, 3200, 3170, 3190, 3220, 3210, 3220, 3030, 3110, 3200,
    3210, 3220, 3230, 3240, 3250, 3260, 3270, 3280, 3290, 3300, 3310, 3320, 3330, 3340, 3350, 3360, 3370, 3380, 3390, 3400, 3250, 3260, 3270, 3280, 3290, 3300, 3320, 3340, 3360, 3380, 3400, 3280, 3290, 3390, 3260,
    3410, 3420, 3430, 3440, 3450, 3460, 3470, 3480, 3490, 3500, 3510, 3520, 3530, 3540, 3550, 3560, 3570, 3580, 3590, 3600, 3430, 3470, 3450, 3500, 3560, 3570, 3580, 3560, 3590, 3600, 3610, 3540, 3520, 3480, 3460, 3600,
]
test_b_pred = [
    100, 150, -50, 200, 50, -100, 120, -150, 180, 0, -120, -80, 80, -60, 150, -100, 290, -220, -50, -180, -100, 320, 590, 480, 340, 130, -30, 250, 250, 200, 300, -350, -100,
    1580, -380, -500, -130, 370, 500, 520, 750, 680, 900, 950, 1140, 1530, 1200, 1140, 880, 990, 450, 500, 400, 380, 150, 120, 500, 360, 180, 200, 100, 100, 380, 470, 550, 350, -250, -270, 130,
    400, 450, 350, 500, 420, 200, 250, 380, 300, 420, 350, 480, 400, 450, 380, 500, 600, 550, 650, 500, 600, 700, 620, 750, 680, -130, 660, 700, 120, 780, 1330, 900, 140, 1980, 1000, 950, 1320, 1180, 940, 280, 650, 130, 150, 210,
    2390, 1810, 1850, 1650, 1300, 1250, 1200, 1450, 1400, 1420, 1440, 1350, 1200, 1150, 1250, 1300, 2240, 2300, 2060, 1600, 1190, 1220, 1100, 980, 1000, 950, 900, 760, 700, 600, 560, 540, 480, 140, -220, 580, 820, 760, 800, 1000, 1050, 800,
    2540, 2380, 1200, 1250, 1180, 1300, 1100, 1050, 950, 1000, 1150, 1200, 1300, 1450, 1500, 1550, 1400, 1350, 1250, 1200, 1100, 1620, 1730, 1600, 750, 800, 780, 700, 820, 640, 800, 900, 1000, 850, 1050,
    2490, 1800, 1780, 1700, 1620, 1650, 1550, 1500, 1350, 1300, 1400, 1200, 1150, 1100, 1050, 1150, 1200, 1100, 1000, 1150, 1250, 1200, 1100, 700, 800, 900, 680, 780, 860, 950, 900, 850, 870, 1000, 1050, 1000,
    2890, 2140, 2140, 1890, 1870, 2050, 2050, 1680, 1350, 1300, 1200, 1150, 1600, 1650, 1800, 1760, 1700, 1250, 1200, 1100, 1050, 1000, 950, 1100, 1050, 1200, 1300, 700, 550, 630, 620, 450, 850, 800, 780, 1000, 1400, 990, 1350,
    2450, 1790, 1600, 1650, 1500, 1450, 1550, 1400, 1350, 1450, 1500, 1550, 1480, 1400, 1450, 1500, 1520, 1400, 1300, 1350, 1100, 1200, 1250, 1300, 1200, 1250, 1350, 1300, 2290, 2030, 1750, 800, 810, 1200, 1150, 900,
    2200, 2180, 2150, 2100, 2150, 2000, 1950, 1900, 1850, 1950, 2000, 1900, 1850, 1950, 2000, 2050, 1900, 1850, 1800, 1700, 1650, 2300, 2250, 1500, 1550, 1500, 1600, 1700, 1750, 1800, 1750, 1700, 1650, 1800, 1600, 1980, 2080, 1900,
    1700, 1650, 1750, 1700, 1600, 1650, 1700, 1750, 1800, 1650, 1600, 1700, 2000, 1950, 1500, 1550, 1450, 1700, 1800, 2100, 1300, 1350, 1320, 1280, 1400, 1320, 2200, 2000, 1650, 1580, 2950, 2300, 2240,
    3590, 2550, 2500, 2350, 2300, 2250, 2200, 2150, 2200, 2100, 2150, 2250, 2300, 2200, 2400, 2150, 2100, 2200, 2000, 1950, 2000, 2050, 2100, 2050, 2000, 1800, 1780, 1750, 1700, 1800, 1650, 1900, 1850, 1550, 1300, 1400, 950, 150, 2380,
    2050, 1900, 2000, 2100, 2200, 2300, 2350, 2400, 2450, 2550, 2500, 2450, 2400, 2500, 2600, 2650, 2550, 2700, 2800, 2850, 1800, 1850, 1950, 2250, 2900, 2650, 2350, 2300, 2200, 2100, 2000, 1720, 2300, 2200, 2400,
    2900, 2700, 2750, 2650, 2800, 2700, 2600, 2500, 2550, 2700, 2900, 2850, 2750, 2800, 2600, 2650, 2500, 2550, 2600, 2450, 1630, 1680, 1550, 1250, 1300, 1200, 2250, 3220, 2100, 1900, 1800, 2050, 2200, 2350, 2500, 2350, 2100, 2550, 2550,
    2500, 2400, 2600, 3540, 2550, 2450, 3180, 3080, 2900, 2750, 2600, 2500, 2300, 2150, 2100, 1900, 1750, 1800, 1700, 1650, 1700, 2250, 2200, 2350, 2400, 2450, 2550, 2600, 2650, 2700, 2750, 2200, 2100, 1850, 1210, 2450, 2850,
    2800, 2850, 2700, 2650, 2750, 2600, 2550, 2700, 3250, 2850, 3000, 3100, 3050, 2950, 3100, 3150, 3000, 2950, 3100, 3050, 2550, 2500, 2450, 2500, 2650, 2700, 2900, 2850, 3000, 3250, 2900, 2750,
    3200, 3150, 3100, 3000, 2950, 3050, 3100, 3000, 2900, 3050, 3150, 3000, 2900, 2850, 2800, 2900, 2750, 2700, 2650, 2800, 2240, 2550, 2800, 2750, 2700, 2650, 3100, 3050, 2400, 2550, 2200, 2100, 2060, 1880, 3390, 2800, 2950, 2200,
    2900, 2700, 2550, 2650, 2800, 2900, 3000, 3100, 3050, 3000, 3150, 3100, 3050, 3000, 3100, 3200, 3150, 3100, 3050, 3000, 2450, 2400, 2500, 2600, 2700, 2800, 2950, 2850, 2900, 2950, 3200, 3350, 3250, 2810, 2360,
    3300, 3250, 3150, 3200, 3300, 3250, 3100, 3050, 3400, 3550, 3650, 3600, 3500, 3450, 3400, 3550, 3500, 3450, 3400, 3200, 2600, 2500, 3500, 3400, 2950, 2760, 2650, 2220, 2930, 3400, 3450, 3100, 3150, 3300, 3050, 2550,
]

# fitted lines (slope, intercept) and scores as printed on the chart
fit_train_a = (0.877, 300)
fit_test_a = (0.848, 350)
fit_train_b = (0.870, 200)
fit_test_b = (0.843, 266)
reg_a = (0.85, 350)
reg_b = (0.84, 270)
r2_train_a, r2_test_a, r_a = "0.8705", "0.83062", "0.91383"
r2_train_b, r2_test_b, r_b = "0.88902", "0.84879", "0.92176"
captions = ["CNN-BiLSTM-Attention", "CNN-GRU-Attention"]

for a, b in [(train_std, train_a_pred), (train_std, train_b_pred),
             (test_a_std, test_a_pred), (test_b_std, test_b_pred)]:
    assert len(a) == len(b), (len(a), len(b))

# ---------------- style ----------------
plt.rcParams["font.family"] = ["Liberation Serif", "DejaVu Serif"]
plt.rcParams["mathtext.fontset"] = "custom"
plt.rcParams["mathtext.rm"] = "Liberation Serif"
plt.rcParams["mathtext.bf"] = "Liberation Serif:bold"
plt.rcParams["mathtext.it"] = "Liberation Serif:italic"

W, H = 3518, 2523
fig = plt.figure(figsize=(W / 100, H / 100), dpi=100)
fig.patch.set_facecolor("white")


def add_ax(x0, y0, x1, y1):
    return fig.add_axes([x0 / W, 1 - y1 / H, (x1 - x0) / W, (y1 - y0) / H])


def ftext(x, y, s, **kw):
    fig.text(x / W, 1 - y / H, s, **kw)


def style(ax, xlim, ylim, xticks, yticks):
    ax.set_xlim(*xlim)
    ax.set_ylim(*ylim)
    ax.set_xticks(xticks)
    ax.set_yticks(yticks)
    ax.tick_params(direction="in", top=True, right=True, length=9, width=1.4,
                   color="#6e6e6e", labelsize=21, labelcolor="#333333")
    ax.tick_params(axis="x", pad=15)
    ax.tick_params(axis="y", pad=8)
    for s in ax.spines.values():
        s.set_color("#707070")
        s.set_linewidth(2.0)


diamond = Path([(0, 1), (0.8, 0), (0, -1), (-0.8, 0), (0, 1)],
               [Path.MOVETO, Path.LINETO, Path.LINETO, Path.LINETO, Path.CLOSEPOLY])
box = Path([(-0.45, -0.5), (0.45, -0.5), (0.45, 0.5), (-0.45, 0.5), (-0.45, -0.5)],
           [Path.MOVETO, Path.LINETO, Path.LINETO, Path.LINETO, Path.CLOSEPOLY])

LBL = dict(fontweight="bold", ha="center", va="center")


def scatter_panel(ax, xs, ys, marker, ms, mew, color, fit, xlim, r2text, tag, tagx, r2pos):
    ax.plot(xs, ys, linestyle="none", marker=marker, ms=ms, mfc="none",
            mec=color, mew=mew, zorder=2)
    lx = np.array(xlim, dtype=float)
    ax.plot(lx, fit[0] * lx + fit[1], color="#ff00ff", lw=2.0, zorder=3)
    ax.text(r2pos[0], r2pos[1], r2text, transform=ax.transAxes, ha="left", va="top",
            fontsize=32)
    ax.text(tagx, 0.034, tag, transform=ax.transAxes, ha="right", va="baseline",
            fontsize=36, fontweight="bold")


def reg_panel(ax, xs, ys, ms, fit, lims, rtext, rx):
    ax.plot(xs, ys, linestyle="none", marker="o", ms=ms, mfc="none", mec="black",
            mew=1.1, zorder=2)
    l = np.array(lims, dtype=float)
    ax.plot(l, l, linestyle=":", color="#9a9a9a", lw=1.3, zorder=3)
    ax.plot(l, fit[0] * l + fit[1], color="#0000ff", lw=4.5, zorder=4)
    h = [Line2D([], [], linestyle="none", marker="o", ms=ms - 1, mfc="none", mec="black", mew=1.1),
         Line2D([], [], color="#0000ff", lw=4.5),
         Line2D([], [], linestyle=":", color="#9a9a9a", lw=1.3)]
    leg = ax.legend(h, ["Data", "Regression model", "Y = T"], loc="upper left",
                    bbox_to_anchor=(0.024, 0.975), borderaxespad=0, fontsize=21,
                    frameon=True, fancybox=False, edgecolor="#4a4a4a",
                    handlelength=3.3, handletextpad=0.4, labelspacing=0.38,
                    borderpad=0.35, framealpha=1)
    leg.get_frame().set_linewidth(1.5)
    ax.text(rx, 0.034, rtext, transform=ax.transAxes, ha="right", va="baseline",
            fontsize=32, fontweight="bold")


def r2(sub, val):
    return (r"$\mathbf{R}_{\mathbf{" + sub + r"}}^{\mathbf{2}}\!\mathbf{=}\!\mathbf{"
            + val + r"}$")


t4000 = [0, 500, 1000, 1500, 2000, 2500, 3000, 3500, 4000]

# ---- (a) row ----
ax1 = add_ax(153, 44, 1143, 1056)
style(ax1, (0, 4000), (-500, 4000), t4000, t4000)
scatter_panel(ax1, train_std, train_a_pred, box, 12.5, 1.3, "#93b7f4", fit_train_a, (0, 4000),
              r2("c", r2_train_a), "Train", 0.93, (0.021, 0.97))

ax2 = add_ax(1297, 48, 2293, 1062)
style(ax2, (0, 4000), (-500, 4000), t4000, t4000)
scatter_panel(ax2, test_a_std, test_a_pred, diamond, 16, 1.3, "#8a8ae8", fit_test_a, (0, 4000),
              r2("p", r2_test_a), "Test", 0.961, (0.02, 0.944))

ax3 = add_ax(2465, 48, 3478, 1084)
t3500 = [0, 500, 1000, 1500, 2000, 2500, 3000, 3500]
style(ax3, (-100, 3900), (-100, 3900), t3500, t3500)
ax3.tick_params(axis="y", pad=10)
reg_panel(ax3, test_a_std, test_a_pred, 16.5, reg_a, (-100, 3900),
          "Regression Plot: R=" + r_a, 0.967)

# ---- (b) row ----
ax4 = add_ax(142, 1315, 1169, 2301)
tneg = [-1000, -500, 0, 500, 1000, 1500, 2000, 2500, 3000, 3500, 4000]
style(ax4, (0, 4000), (-1000, 4000), t4000[1:], tneg)
ax4.tick_params(axis="x", pad=12)
scatter_panel(ax4, train_std, train_b_pred, box, 12.5, 1.3, "#4c6fcc", fit_train_b, (0, 4000),
              r2("c", r2_train_b), "Train", 0.935, (0.008, 0.96))

ax5 = add_ax(1309, 1318, 2336, 2305)
style(ax5, (0, 4000), (-1000, 4000), t4000, tneg)
ax5.tick_params(axis="x", pad=12)
scatter_panel(ax5, test_b_std, test_b_pred, diamond, 16, 1.3, "#4a50a8", fit_test_b, (0, 4000),
              r2("p", r2_test_b), "Test", 0.945, (0.018, 0.96))

ax6 = add_ax(2487, 1315, 3479, 2307)
t6 = [-500, 0, 500, 1000, 1500, 2000, 2500, 3000, 3500]
style(ax6, (-500, 3670), (-500, 3670), t6, t6)
ax6.tick_params(axis="x", pad=12)
ax6.tick_params(axis="y", pad=10)
reg_panel(ax6, test_b_std, test_b_pred, 15, reg_b, (-500, 3670),
          "Regression Plot: R=" + r_b, 0.953)

# ---- axis labels ----
ftext(650, 1155, "Standard value", fontsize=32, **LBL)
ftext(1797, 1163, "Standard value", fontsize=32, **LBL)
ftext(2967, 1167, "Target value", fontsize=32, **LBL)
ftext(658, 2378, "Standard value", fontsize=32, **LBL)
ftext(1840, 2380, "Standard value", fontsize=32, **LBL)
ftext(2974, 2372, "Target value", fontsize=32, **LBL)

ftext(50, 550, "Predicted value", fontsize=37, rotation=90, **LBL)
ftext(1194, 556, "Predicted value", fontsize=37, rotation=90, **LBL)
ftext(2353, 568, "y=%.2fx+%d" % reg_a, fontsize=34, rotation=90, **LBL)
ftext(54, 1729, "Predicted value", fontsize=37, rotation=90, **LBL)
ftext(1220, 1797, "Predicted value", fontsize=37, rotation=90, **LBL)
ftext(2393, 1808, "y=%.2fx+%d" % reg_b, fontsize=33, rotation=90, **LBL)

# ---- captions ----
ftext(1755, 1255, r"($\mathbf{a}$) " + captions[0], fontsize=57, ha="center", va="center")
ftext(1755, 2455, r"($\mathbf{b}$) " + captions[1], fontsize=57, ha="center", va="center")

fig.savefig("out.png", dpi=100, facecolor="white")
